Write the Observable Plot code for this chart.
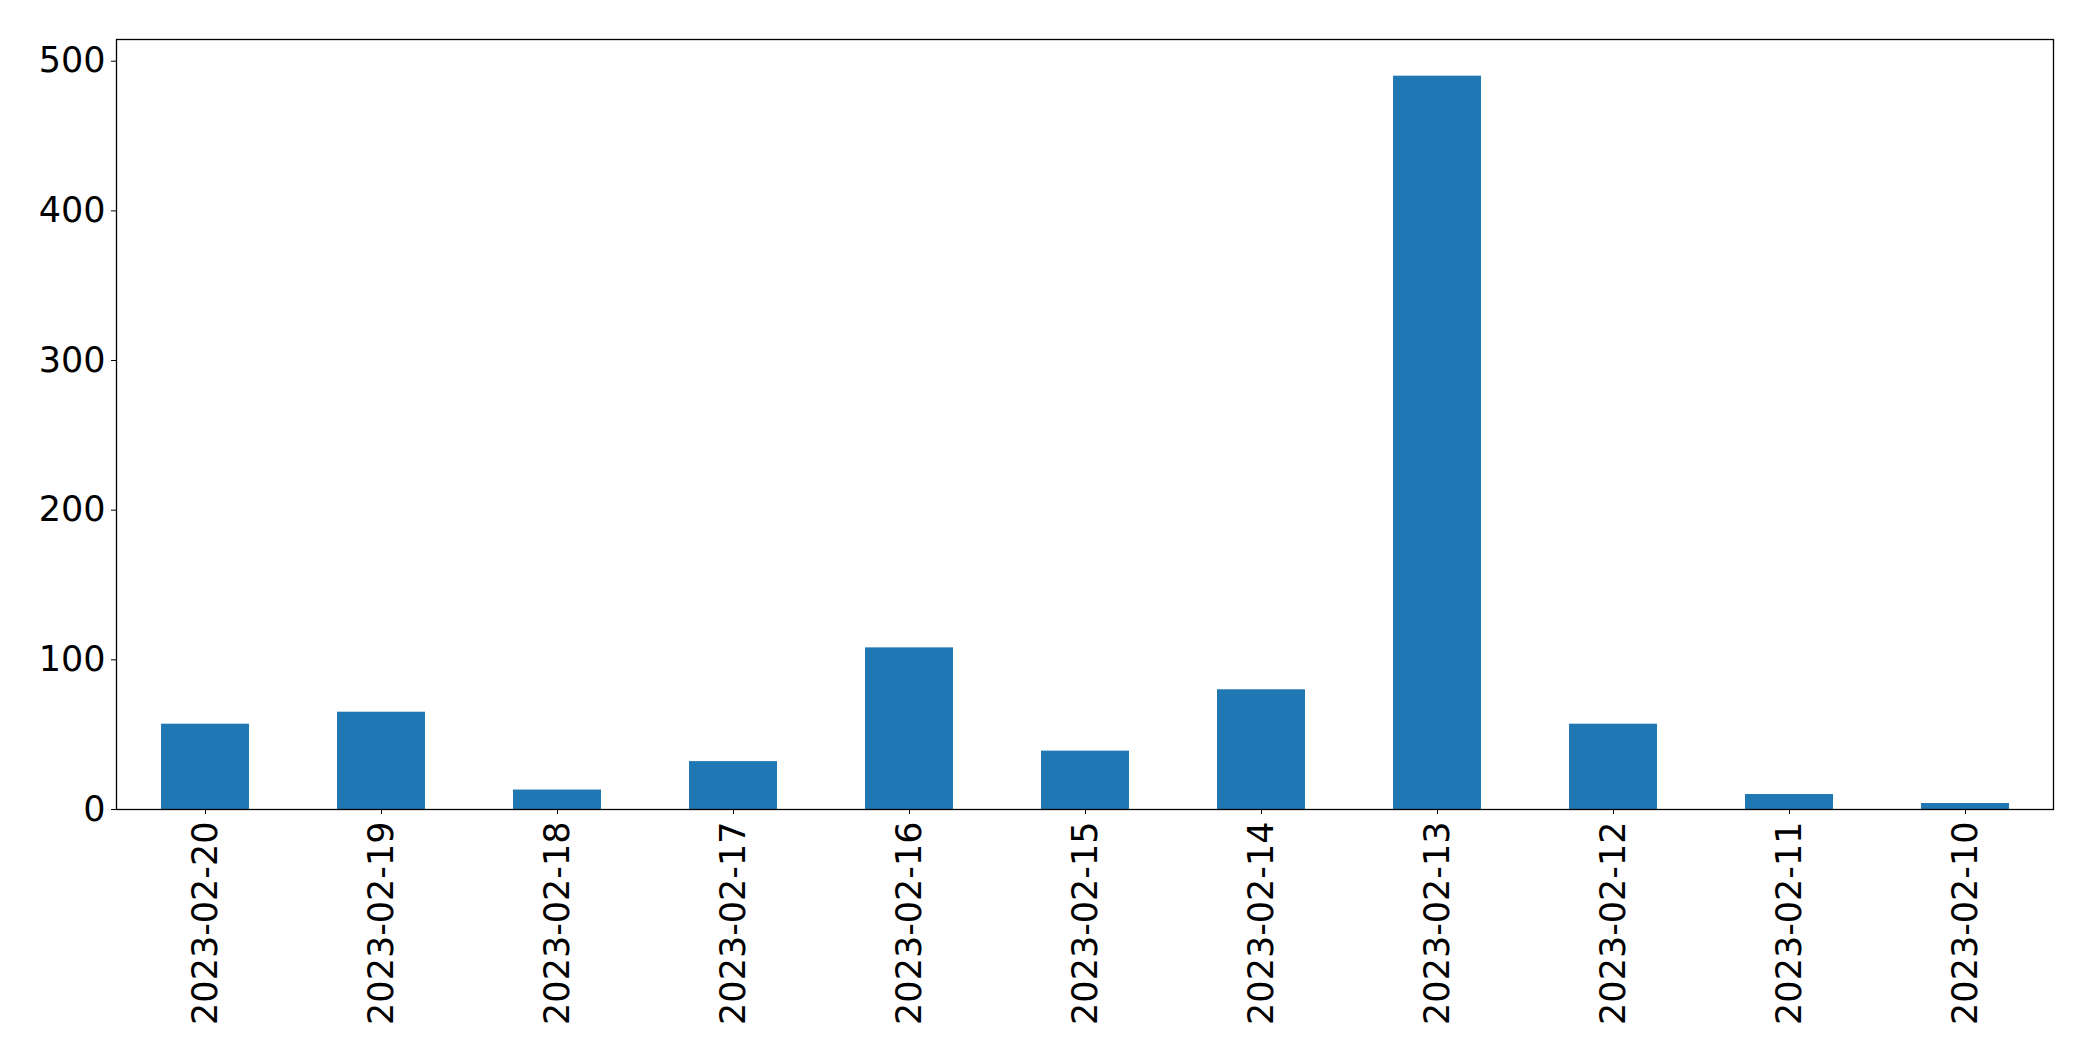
<!DOCTYPE html>
<html>
<head>
<meta charset="utf-8">
<script src="https://cdn.jsdelivr.net/npm/d3@7"></script>
<script src="https://cdn.jsdelivr.net/npm/@observablehq/plot@0.6"></script>
<style>
  html, body { margin: 0; padding: 0; background: #fff; }
  svg { display: block; }
</style>
</head>
<body>
<div id="chart"></div>
<script>
const dates = ["2023-02-20","2023-02-19","2023-02-18","2023-02-17","2023-02-16","2023-02-15","2023-02-14","2023-02-13","2023-02-12","2023-02-11","2023-02-10"];
const counts = [57, 65, 13, 32, 108, 39, 80, 490, 57, 10, 4];
const yTicks = [0, 100, 200, 300, 400, 500];

const data = dates.map((d, i) => ({date: d, count: counts[i]}));
const yMax = d3.max(counts) * 1.05;

const chart = Plot.plot({
  width: 2093,
  height: 1061,
  marginLeft: 116,
  marginRight: 40,
  marginTop: 39,
  marginBottom: 252,
  style: {fontFamily: "DejaVu Sans", fontSize: "35px", color: "black", background: "white"},
  x: {type: "band", domain: dates, paddingInner: 0.5, paddingOuter: 0.25, label: null},
  y: {domain: [0, yMax], label: null},
  marks: [
    Plot.barY(data, {x: "date", y: "count", fill: "#1f77b4"}),
    Plot.axisY({ticks: yTicks, tickSize: 5, tickPadding: 6, label: null, fontSize: 35, stroke: "black", strokeOpacity: 1}),
    Plot.axisX({tickRotate: -90, tickSize: 5, tickPadding: 7, label: null, fontSize: 35, stroke: "black", strokeOpacity: 1}),
    Plot.frame({stroke: "black", strokeWidth: 1.3})
  ]
});
document.getElementById("chart").appendChild(chart);
</script>
</body>
</html>
